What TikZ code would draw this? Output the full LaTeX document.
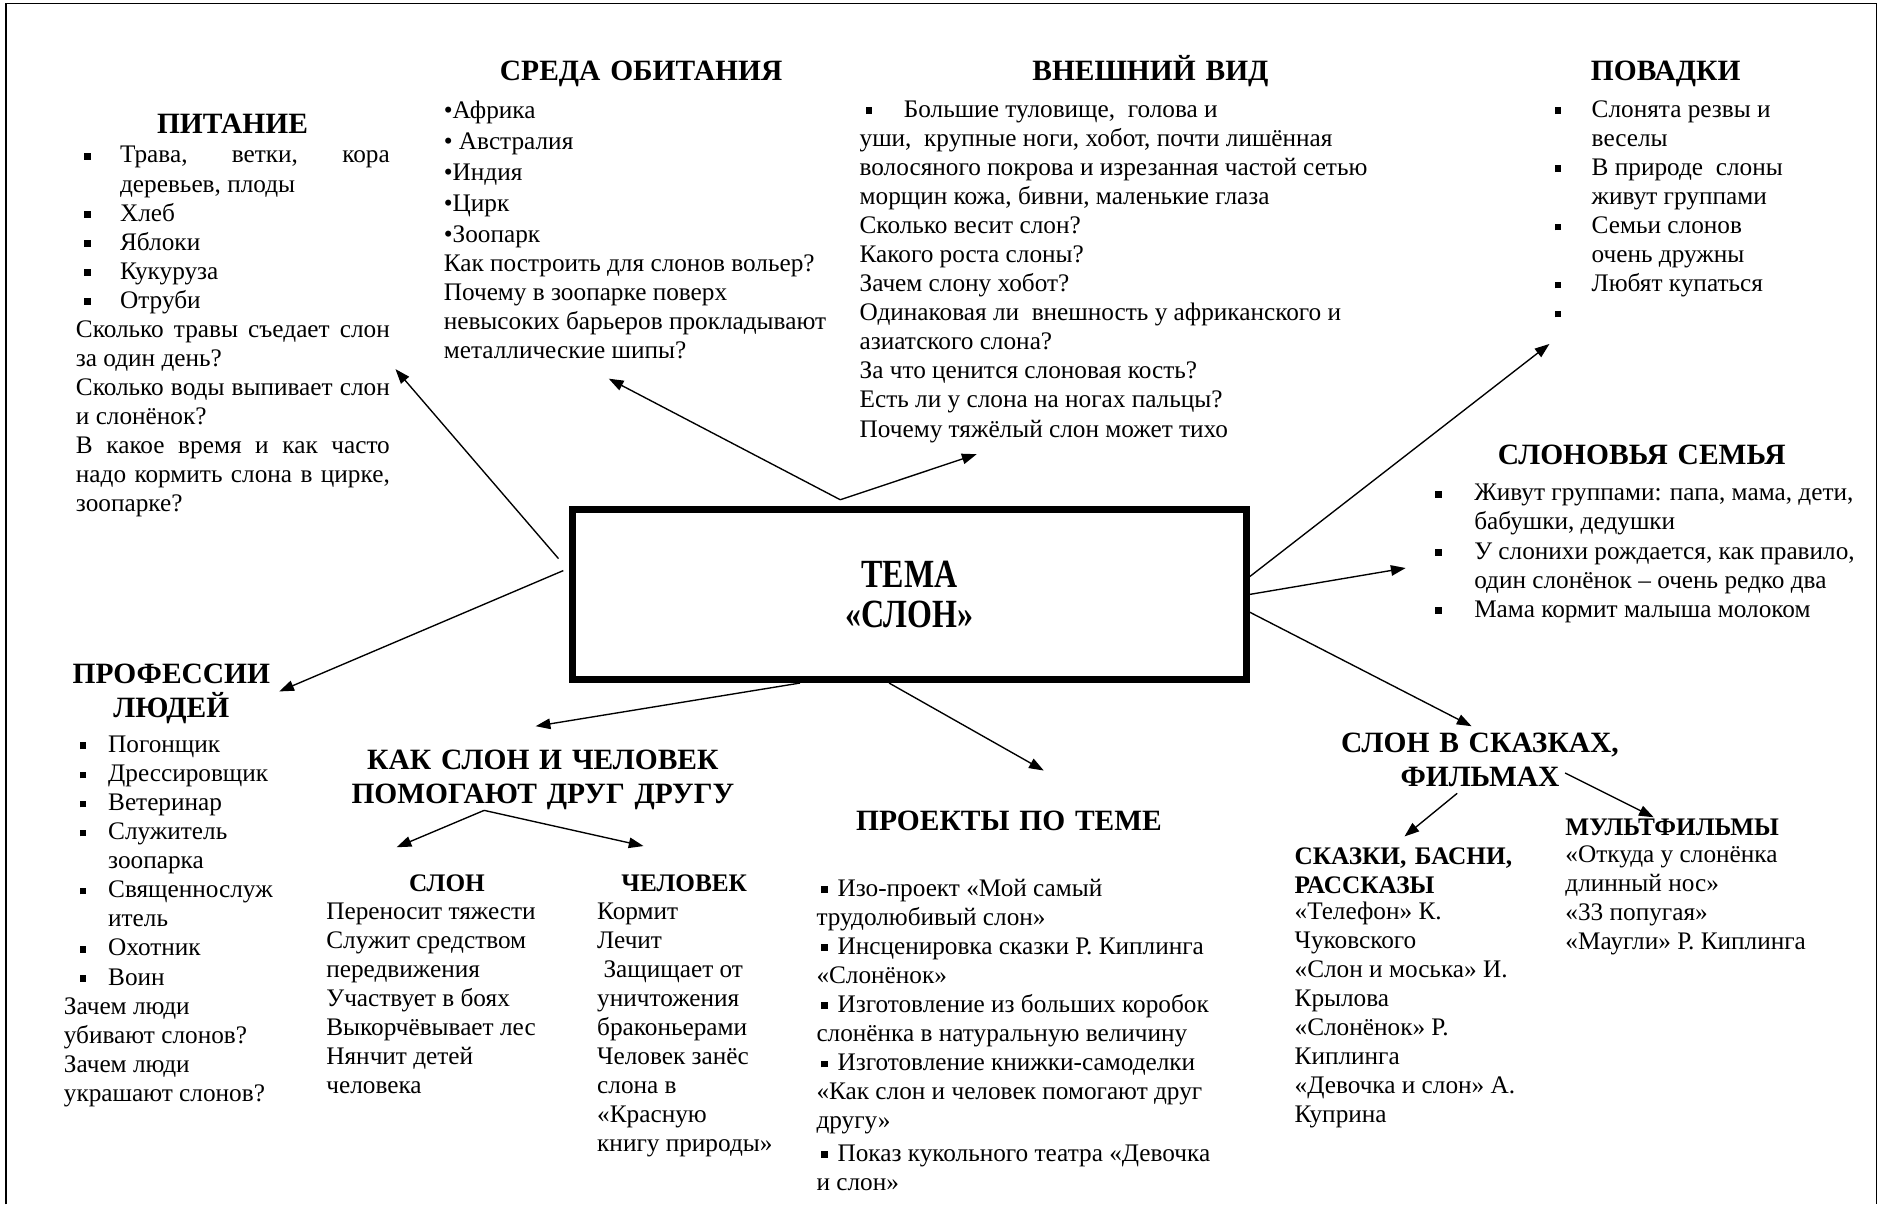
\documentclass[tikz,border=0pt]{standalone}
\usepackage{fontspec}
\setmainfont{Liberation Serif}
\usepackage{graphicx}
\usetikzlibrary{positioning,arrows.meta}

\newlength\bind
\setlength\bind{21pt}
\newcommand\sqb{\rule[1.6pt]{3.2pt}{3.2pt}}
\newcommand\sqi[2][3.4pt]{\makebox[\bind][l]{\hspace*{#1}\sqb}#2}
\newcommand\sqs{\makebox[10pt][l]{\hspace*{2.3pt}\sqb}}
\newcommand\cnt[1]{\hspace*{\bind}#1}
\newcommand\jl[2][\linewidth]{\makebox[#1][s]{\spaceskip=0.25em plus 1fil\relax #2}}

\begin{document}
\begin{tikzpicture}[x=0.02cm, y=-0.02cm]
\tikzset{txt/.style = {anchor=base west, inner sep=0pt, align=justify, font=\fontsize{12}{13.8}\selectfont}}
\tikzset{head/.style = {anchor=base, inner sep=0pt, align=center, text width=7cm, font=\fontsize{14}{16.3}\selectfont\bfseries}}
\tikzset{subhead/.style = {anchor=base, inner sep=0pt, font=\fontsize{12}{13.8}\selectfont\bfseries}}
\tikzset{arr/.style = {-{Triangle[length=7pt, width=5pt]}, line width=0.65pt}}

	\useasboundingbox (0,0) rectangle (1568,1005);
	\draw[line width=0.8pt] (5,1005) -- (5,3) -- (1566,3) -- (1566,1005);

	% centre
	\node[draw, line width=3.4pt, minimum width=11.24cm, minimum height=2.84cm, align=center,
	      font=\fontsize{19}{18.8}\selectfont\bfseries] (tema) at (759,496)
	      {\scalebox{0.8}[1]{ТЕМА}\\\scalebox{0.8}[1]{«СЛОН»}};

	% headings
	\node[head] (pit) at (194,111) {ПИТАНИЕ};
	\node[head] (sreda) at (535,67) {СРЕДА ОБИТАНИЯ};
	\node[head] (vid) at (960,67) {ВНЕШНИЙ ВИД};
	\node[head] (pov) at (1390,67) {ПОВАДКИ};
	\node[head] (sem) at (1370,388) {СЛОНОВЬЯ СЕМЬЯ};
	\node[head] (prof) at (143,570) {ПРОФЕССИИ\\ЛЮДЕЙ};
	\node[head] (kak) at (453,642) {КАК СЛОН И ЧЕЛОВЕК\\ПОМОГАЮТ ДРУГ ДРУГУ};
	\node[head] (proj) at (842,693) {ПРОЕКТЫ ПО ТЕМЕ};
	\node[head] (skaz) at (1235,628) {СЛОН В СКАЗКАХ,\\ФИЛЬМАХ};

	\node[subhead] (slon) at (373,744) {СЛОН};
	\node[subhead] (chel) at (571,744) {ЧЕЛОВЕК};
	\node[subhead, anchor=base west, text width=4cm, align=left] (basni) at (1080,721) {СКАЗКИ, БАСНИ,\\РАССКАЗЫ};
	\node[subhead, anchor=base west] (mult) at (1306,697) {МУЛЬТФИЛЬМЫ};

	% texts
	\node[txt, text width=5.24cm] (pitT) at (63,136) {%
	  \sqi[4pt]{\jl[\dimexpr\linewidth-\bind\relax]{Трава, ветки, кора}}\\
	  \cnt{деревьев, плоды}\\
	  \sqi[4pt]{Хлеб}\\
	  \sqi[4pt]{Яблоки}\\
	  \sqi[4pt]{Кукуруза}\\
	  \sqi[4pt]{Отруби}\\
	  \jl{Сколько травы съедает слон}\\
	  за один день?\\
	  \jl{Сколько воды выпивает слон}\\
	  и слонёнок?\\
	  \jl{В какое время и как часто}\\
	  \jl{надо кормить слона в цирке,}\\
	  зоопарке?};

	\node[txt, text width=8cm] (sredaT) at (370,99) {%
	  •Африка\\[0.85pt]
	  • Австралия\\[0.85pt]
	  •Индия\\[0.85pt]
	  •Цирк\\[0.85pt]
	  •Зоопарк\\
	  Как построить для слонов вольер?\\
	  Почему в зоопарке поверх\\
	  невысоких барьеров прокладывают\\
	  металлические шипы?};

	\node[txt, text width=10cm] (vidT) at (717,98) {%
	  \sqi[2.8pt]{Большие туловище,~ голова и}\\
	  уши,~ крупные ноги, хобот, почти лишённая\\
	  волосяного покрова и изрезанная частой сетью\\
	  морщин кожа, бивни, маленькие глаза\\
	  Сколько весит слон?\\
	  Какого роста слоны?\\
	  Зачем слону хобот?\\
	  Одинаковая ли~ внешность у африканского и\\
	  азиатского слона?\\
	  За что ценится слоновая кость?\\
	  Есть ли у слона на ногах пальцы?\\
	  Почему тяжёлый слон может тихо};

	\node[txt, text width=6cm] (povT) at (1291,98) {%
	  \sqi{Слонята резвы и}\\
	  \cnt{веселы}\\
	  \sqi{В природе~ слоны}\\
	  \cnt{живут группами}\\
	  \sqi{Семьи слонов}\\
	  \cnt{очень дружны}\\
	  \sqi{Любят купаться}\\
	  \sqi{}};

	\node[txt, text width=9cm] (semT) at (1193,418) {%
	  \sqi[2.3pt]{Живут группами: папа, мама, дети,}\\
	  \cnt{бабушки, дедушки}\\
	  \sqi[2.3pt]{У слонихи рождается, как правило,}\\
	  \cnt{один слонёнок – очень редко два}\\
	  \sqi[2.3pt]{Мама кормит малыша молоком}};

	\node[txt, text width=6cm] (profT) at (53,628) {%
	  \sqi[7.4pt]{Погонщик}\\
	  \sqi[7.4pt]{Дрессировщик}\\
	  \sqi[7.4pt]{Ветеринар}\\
	  \sqi[7.4pt]{Служитель}\\
	  \cnt{зоопарка}\\
	  \sqi[7.4pt]{Священнослуж}\\
	  \cnt{итель}\\
	  \sqi[7.4pt]{Охотник}\\
	  \sqi[7.4pt]{Воин}\\
	  Зачем люди\\
	  убивают слонов?\\
	  Зачем люди\\
	  украшают слонов?};

	\node[txt, text width=5cm] (slonT) at (272,767) {%
	  Переносит тяжести\\
	  Служит средством\\
	  передвижения\\
	  Участвует в боях\\
	  Выкорчёвывает лес\\
	  Нянчит детей\\
	  человека};

	\node[txt, text width=5cm] (chelT) at (498,767) {%
	  Кормит\\
	  Лечит\\
	  \hspace*{0.25em}Защищает от\\
	  уничтожения\\
	  браконьерами\\
	  Человек занёс\\
	  слона в\\
	  «Красную\\
	  книгу природы»};

	\node[txt, text width=8cm] (projT) at (681,748) {%
	  \sqs Изо-проект «Мой самый\\
	  трудолюбивый слон»\\
	  \sqs Инсценировка сказки Р. Киплинга\\
	  «Слонёнок»\\
	  \sqs Изготовление из больших коробок\\
	  слонёнка в натуральную величину\\
	  \sqs Изготовление книжки-самоделки\\
	  «Как слон и человек помогают друг\\
	  другу»\\[1.5pt]
	  \sqs Показ кукольного театра «Девочка\\
	  и слон»};

	\node[txt, text width=5cm] (basniT) at (1080,767) {%
	  «Телефон» К.\\
	  Чуковского\\
	  «Слон и моська» И.\\
	  Крылова\\
	  «Слонёнок» Р.\\
	  Киплинга\\
	  «Девочка и слон» А.\\
	  Куприна};

	\node[txt, text width=5cm] (multT) at (1306,720) {%
	  «Откуда у слонёнка\\
	  длинный нос»\\
	  «33 попугая»\\
	  «Маугли» Р. Киплинга};

	% arrow ends
	\coordinate (pitE) at (330,308);
	\coordinate (profE) at (233,577);
	\coordinate (sredaE) at (508,316);
	\coordinate (vidE) at (815,379);
	\coordinate (povE) at (1293,287);
	\coordinate (semE) at (1173,474);
	\coordinate (skazE) at (1228,606);
	\coordinate (kakE) at (447,606);
	\coordinate (projE) at (871,643);
	\coordinate (slonE) at (331,707);
	\coordinate (chelE) at (537,706);
	\coordinate (basniE) at (1172,698);
	\coordinate (multE) at (1380,682);
	\coordinate (skazL) at (1216,662);
	\coordinate (skazR) at (1306,645);

	\draw[arr] ([xshift=-0.18cm]tema.174.8) -- (pitE);
	\draw[arr] ([xshift=-0.1cm]tema.176) -- (profE);
	\draw[arr] ([yshift=0.1cm]tema.128.1) -- (sredaE);
	\draw[arr] ([yshift=0.1cm]tema.128.1) -- (vidE);
	\draw[arr] (tema.3.6) -- (povE);
	\draw[arr] (tema.0.8) -- (semE);
	\draw[arr] (tema.-3.6) -- (skazE);
	\draw[arr] (tema.219.1) -- (kakE);
	\draw[arr] (tema.257.8) -- (projE);
	\draw[arr] ([xshift=-0.98cm]kak.south) -- (slonE);
	\draw[arr] ([xshift=-0.98cm]kak.south) -- (chelE);
	\draw[arr] (skazL) -- (basniE);
	\draw[arr] (skazR) -- (multE);

\end{tikzpicture}
\end{document}
